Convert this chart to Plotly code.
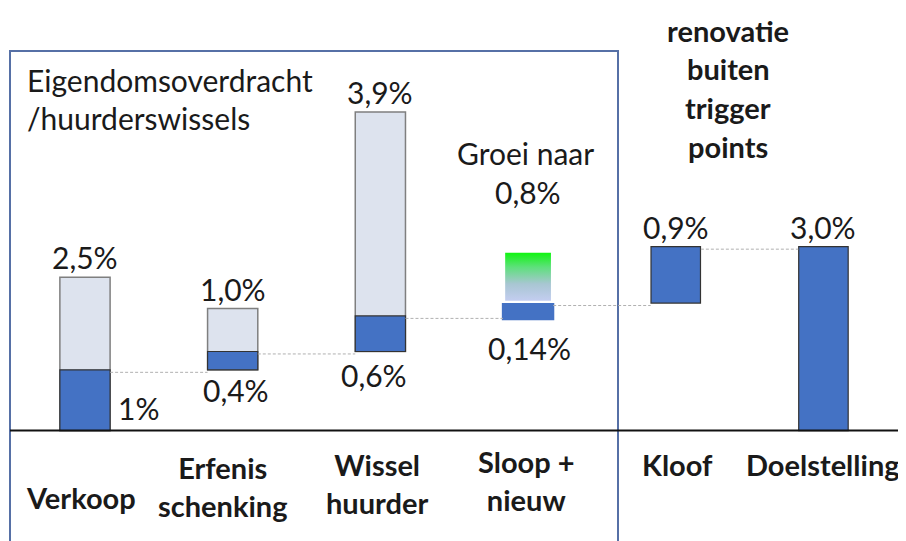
import plotly.graph_objects as go

# categorieën (volgorde op de x-as)
categories = ["Verkoop", "Erfenis<br>schenking", "Wissel<br>huurder", "Sloop +<br>nieuw", "Kloof", "Doelstelling"]

# lichte balken: totale overdracht / wissels (in %)
light_base = [0.0, 0.99, 1.29]
light_value = [2.5, 1.0, 3.91]
light_label = ["2,5%", "1,0%", "3,9%"]

# donkere balken: renovatie (in %)
dark_base = [0.0, 0.99, 1.29, 1.80, 2.08, 0.0]
dark_value = [0.99, 0.30, 0.58, 0.28, 0.92, 3.0]
dark_label = ["1%", "0,4%", "0,6%", "0,14%", "0,9%", "3,0%"]

# groei sloop + nieuw
groei_base = 2.12
groei_value = 0.78
groei_label = "0,8%"

# pagina heeft 8px body-marge, dus figuur iets kleiner
OFF = 8
W, H = 906 - OFF, 541 - OFF
X_MIN, X_MAX = -0.5213, 5.559
Y_MIN, Y_MAX = -1.803, 6.896

FONT = "Lato"
TXT = "#1a1a1a"
DARK = "#4472c4"
LIGHT = "#dde3ee"


def pxx(p):
    return (p - OFF) / W


def pxy(p):
    return 1 - (p - OFF) / H


fig = go.Figure()

idx = list(range(len(categories)))

# lichte balken
fig.add_trace(go.Bar(
    x=idx[:3], y=light_value, base=light_base, width=0.34,
    marker=dict(color=LIGHT, line=dict(color="#7f7f7f", width=1.5)),
    hoverinfo="skip",
))

# donkere balken
fig.add_trace(go.Bar(
    x=idx, y=dark_value, base=dark_base,
    width=[0.34, 0.34, 0.34, 0.355, 0.335, 0.335],
    marker=dict(color=DARK,
                line=dict(color=["#333333", "#333333", "#333333", DARK, "#333333", "#333333"],
                          width=[1.2, 1.2, 1.2, 0, 1.2, 1.2])),
    hoverinfo="skip",
))

# groei-blok met kleurverloop
gw = 0.155
fig.add_trace(go.Scatter(
    x=[3 - gw, 3 + gw, 3 + gw, 3 - gw, 3 - gw],
    y=[groei_base, groei_base, groei_base + groei_value, groei_base + groei_value, groei_base],
    mode="lines", line=dict(width=0), fill="toself",
    fillgradient=dict(type="vertical",
                      colorscale=[[0, "#c3cdf0"], [0.35, "#a8c6d2"], [0.7, "#5ee07c"], [1, "#10f510"]]),
    hoverinfo="skip",
))

# stippellijnen tussen de balken
cx, cy = [], []
for i in range(5):
    top = dark_base[i] + dark_value[i]
    cx += [i + 0.17, i + 1 - 0.17, None]
    cy += [top - 0.04, top - 0.04, None]
fig.add_trace(go.Scatter(x=cx, y=cy, mode="lines",
                         line=dict(color="#b0b0b0", width=1, dash="3px,2px"), hoverinfo="skip"))

ann = []


def label(text, x, y, size=30, bold=False, xanchor="center", yanchor="middle", xref="paper", yref="paper"):
    ann.append(dict(text=f"<b>{text}</b>" if bold else text, x=x, y=y, xref=xref, yref=yref,
                    xanchor=xanchor, yanchor=yanchor, showarrow=False,
                    font=dict(family=FONT, size=size, color=TXT)))


# waardelabels
for i in range(3):
    label(light_label[i], i, light_base[i] + light_value[i], xref="x", yref="y", yanchor="bottom")
label(dark_label[0], pxx(138), pxy(408))
label(dark_label[1], pxx(236), pxy(390))
label(dark_label[2], pxx(374), pxy(375))
label(dark_label[3], pxx(529), pxy(348))
label(dark_label[4], 4, dark_base[4] + dark_value[4], xref="x", yref="y", yanchor="bottom")
label(dark_label[5], 5, dark_base[5] + dark_value[5], xref="x", yref="y", yanchor="bottom")
label("Groei naar", pxx(525), pxy(153))
label(groei_label, pxx(528), pxy(192))

# titels
label("Eigendomsoverdracht", pxx(25), pxy(80), xanchor="left")
label("/huurderswissels", pxx(25), pxy(118), xanchor="left")
for k, line in enumerate(["renovatie", "buiten", "trigger", "points"]):
    label(line, pxx(728), pxy(30 + k * 38.7), size=29, bold=True)

# categorie-labels onder de as
cat_y = [497, 486, 483, 480, 464, 464]
cat_x = [81, 222, 377, 526, 677, 823]
for i, c in enumerate(categories):
    label(c, pxx(cat_x[i]), pxy(cat_y[i]), size=29, bold=True)

fig.update_layout(
    width=W, height=H,
    margin=dict(l=0, r=0, t=0, b=0),
    plot_bgcolor="white", paper_bgcolor="white",
    barmode="overlay", showlegend=False,
    xaxis=dict(range=[X_MIN, X_MAX], visible=False, fixedrange=True),
    yaxis=dict(range=[Y_MIN, Y_MAX], visible=False, fixedrange=True),
    annotations=ann,
    shapes=[
        dict(type="rect", xref="paper", yref="paper", x0=pxx(10), x1=pxx(618), y0=-0.02, y1=pxy(51),
             line=dict(color="#5670a6", width=2), layer="below"),
        dict(type="line", xref="paper", yref="y", x0=pxx(10), x1=1, y0=0, y1=0,
             line=dict(color="#111111", width=2)),
    ],
)

fig.write_html("out.html")
